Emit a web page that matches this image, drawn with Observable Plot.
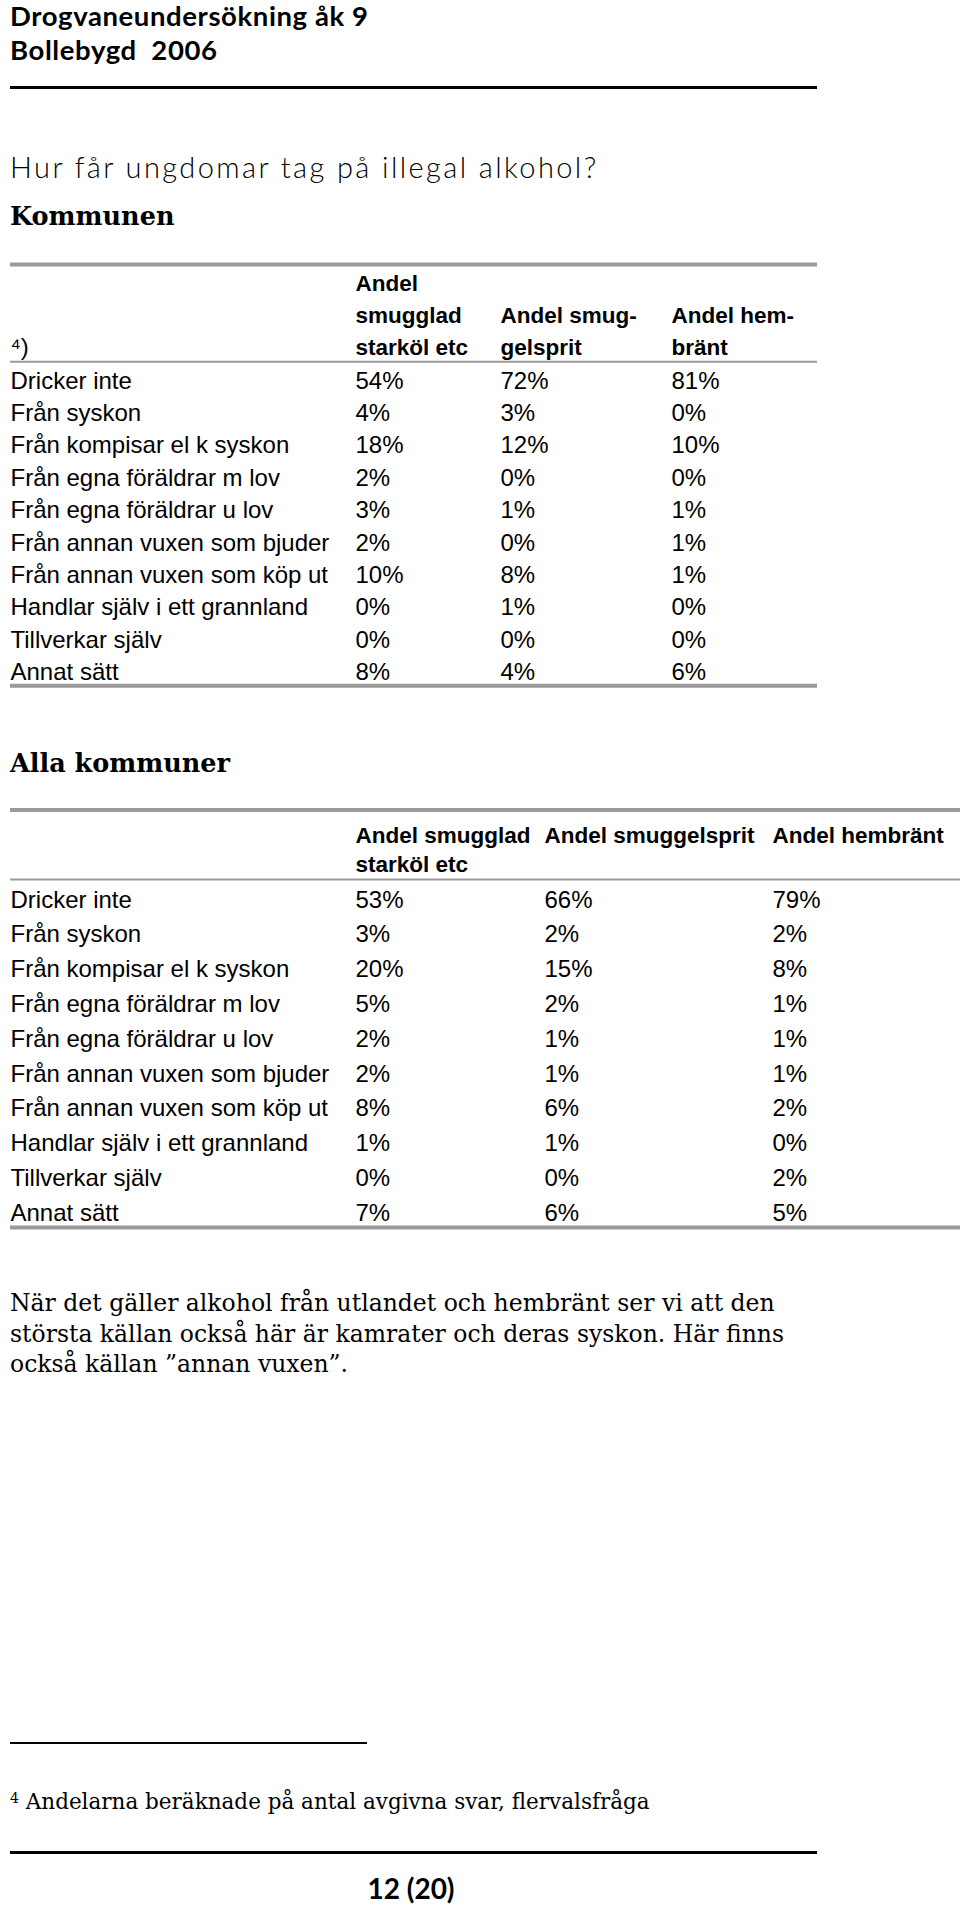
<!DOCTYPE html>
<html><head><meta charset="utf-8">
<script src="https://cdn.jsdelivr.net/npm/d3@7"></script>
<script src="https://cdn.jsdelivr.net/npm/@observablehq/plot@0.6"></script>
<style>
body{margin:0;background:#fff;}
#page{position:relative;width:960px;height:1906px;overflow:hidden;background:#fff;color:#000;}
.abs{position:absolute;left:10px;white-space:nowrap;}
.gothic{font-family:Lato,"DejaVu Sans",sans-serif;}
.serif{font-family:"DejaVu Serif",Georgia,serif;}
.rule{position:absolute;left:10px;background:#000;}
.plotbox{position:absolute;left:0;}
</style>
</head><body>
<div id="page">
  <div class="abs gothic" style="top:2px;font-size:27.5px;line-height:28px;font-weight:700;letter-spacing:0.6px;">Drogvaneundersökning åk 9</div>
  <div class="abs gothic" style="top:36px;font-size:27.5px;line-height:28px;font-weight:700;letter-spacing:0.6px;white-space:pre;">Bollebygd  2006</div>
  <div class="rule" style="top:86px;width:807px;height:3px;"></div>
  <div class="abs gothic" style="top:152px;font-size:29px;line-height:29px;font-weight:300;letter-spacing:2.4px;">Hur får ungdomar tag på illegal alkohol?</div>
  <div class="abs serif" style="top:204px;font-size:25.5px;line-height:25.5px;font-weight:700;">Kommunen</div>
  <div id="t1" class="plotbox" style="top:240px;"></div>
  <div class="abs serif" style="top:751px;font-size:25.5px;line-height:25.5px;font-weight:700;">Alla kommuner</div>
  <div id="t2" class="plotbox" style="top:790px;"></div>
  <div class="abs serif" style="top:1288px;font-size:23.5px;line-height:30.5px;">När det gäller alkohol från utlandet och hembränt ser vi att den<br>största källan också här är kamrater och deras syskon. Här finns<br>också källan ”annan vuxen”.</div>
  <div class="rule" style="top:1742px;width:357px;height:2px;"></div>
  <div class="abs serif" style="top:1788px;font-size:21.5px;line-height:21.5px;"><span style="font-size:14px;vertical-align:6px;">4</span> Andelarna beräknade på antal avgivna svar, flervalsfråga</div>
  <div class="rule" style="top:1851px;width:807px;height:3px;"></div>
  <div class="abs gothic" style="top:1874px;left:311px;width:200px;text-align:center;font-size:28px;line-height:28px;font-weight:700;">12 (20)</div>
</div>
<script>
// ---- data ----
const rowLabels = [
  "Dricker inte", "Från syskon", "Från kompisar el k syskon", "Från egna föräldrar m lov",
  "Från egna föräldrar u lov", "Från annan vuxen som bjuder", "Från annan vuxen som köp ut",
  "Handlar själv i ett grannland", "Tillverkar själv", "Annat sätt"
];
const kommunenHeaders = ["Andel\nsmugglad\nstarköl etc", "Andel smug-\ngelsprit", "Andel hem-\nbränt"];
const kommunenNote = "⁴)";
const kommunenStarkol = [54, 4, 18, 2, 3, 2, 10, 0, 0, 8];
const kommunenSprit   = [72, 3, 12, 0, 1, 0, 8, 1, 0, 4];
const kommunenHembrant= [81, 0, 10, 0, 1, 1, 1, 0, 0, 6];

const allaHeaders = ["Andel smugglad\nstarköl etc", "Andel smuggelsprit", "Andel hembränt"];
const allaStarkol  = [53, 3, 20, 5, 2, 2, 8, 1, 0, 7];
const allaSprit    = [66, 2, 15, 2, 1, 1, 6, 1, 0, 6];
const allaHembrant = [79, 2, 8, 1, 1, 1, 2, 0, 2, 5];

// ---- build cells ----
function bodyCells(series) {
  const out = [];
  rowLabels.forEach((lab, i) => {
    out.push({col: 0, row: i, text: lab});
    series.forEach((s, j) => out.push({col: j + 1, row: i, text: s[i] + "%"}));
  });
  return out;
}
function headerCells(headers) {
  return headers.map((h, j) => ({col: j + 1, text: h}));
}

const font = "'Liberation Sans', Arial, sans-serif";
const grey = "#9a9a9a";

// ---- Table 1: Kommunen ----
const t1 = Plot.plot({
  width: 960, height: 470,
  marginLeft: 10, marginRight: 143, marginTop: 0, marginBottom: 0,
  x: {type: "linear", domain: [0, 1, 2, 3], range: [10, 355, 500, 671], axis: null},
  y: {type: "linear", domain: [-3, 10], range: [24, 24 + 13 * 32.4], axis: null},
  style: {fontFamily: font, color: "#000", background: "transparent", overflow: "visible"},
  marks: [
    Plot.ruleY([-3, 10], {stroke: grey, strokeWidth: 4}),
    Plot.ruleY([0], {stroke: grey, strokeWidth: 2}),
    Plot.text(headerCells(kommunenHeaders), {x: "col", y: () => -0.2, text: "text", textAnchor: "start",
      lineAnchor: "bottom", lineHeight: 1.42, fontSize: 22.5, fontWeight: "bold", fill: "#000"}),
    Plot.text([{col: 0, text: kommunenNote}], {x: "col", y: () => -0.2, text: "text", textAnchor: "start",
      lineAnchor: "bottom", fontSize: 24, fill: "#000"}),
    Plot.text(bodyCells([kommunenStarkol, kommunenSprit, kommunenHembrant]), {x: "col", y: d => d.row + 0.5,
      text: "text", textAnchor: "start", lineAnchor: "middle", dy: 3, fontSize: 24, fill: "#000"})
  ]
});
document.getElementById("t1").append(t1);

// ---- Table 2: Alla kommuner ----
const t2 = Plot.plot({
  width: 960, height: 450,
  marginLeft: 10, marginRight: 0, marginTop: 0, marginBottom: 0,
  x: {type: "linear", domain: [0, 1, 2, 3], range: [10, 355, 544, 772], axis: null},
  y: {type: "linear", domain: [-2, 10], range: [19.4, 19.4 + 12 * 34.8], axis: null},
  style: {fontFamily: font, color: "#000", background: "transparent", overflow: "visible"},
  marks: [
    Plot.ruleY([-2, 10], {stroke: grey, strokeWidth: 4}),
    Plot.ruleY([0], {stroke: grey, strokeWidth: 2}),
    Plot.text(headerCells(allaHeaders), {x: "col", y: () => -1.64, text: "text", textAnchor: "start",
      lineAnchor: "top", lineHeight: 1.3, fontSize: 22.5, fontWeight: "bold", fill: "#000"}),
    Plot.text(bodyCells([allaStarkol, allaSprit, allaHembrant]), {x: "col", y: d => d.row + 0.5,
      text: "text", textAnchor: "start", lineAnchor: "middle", dy: 3, fontSize: 24, fill: "#000"})
  ]
});
document.getElementById("t2").append(t2);
</script>
</body></html>
